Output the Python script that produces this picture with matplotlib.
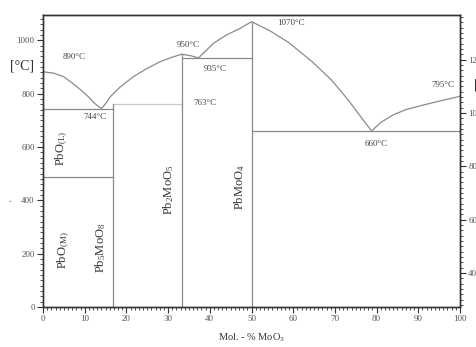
import matplotlib
matplotlib.use("Agg")
import matplotlib.pyplot as plt
from matplotlib.ticker import MultipleLocator

# Liquidus curve (mol % MoO3, °C)
liq_x = [0, 2.5, 4.9, 7.0, 9.0, 10.9, 12.5, 14.0, 15.0, 16.1, 18.5, 21.7,
         25.0, 28.1, 31.0, 33.3, 35.5, 37.3, 40.9, 44.0, 47.3, 50.0,
         54.4, 58.8, 64.4, 69.2, 73.2, 76.8, 78.8, 81.0, 83.9, 87.0,
         91.1, 95.0, 100]
liq_y = [882, 877, 864, 840, 815, 788, 762, 744, 762, 788, 825, 864,
         895, 920, 937, 948, 942, 934, 989, 1020, 1045, 1070,
         1036, 993, 922, 851, 776, 701, 660, 692, 720, 740,
         757, 772, 790]

# Horizontal isotherms: (x_start, x_end, temperature)
h_x0 = [0, 0, 16.7, 33.3, 50]
h_x1 = [16.7, 16.7, 33.3, 50, 100]
h_t = [744, 489, 763, 935, 660]
h_col = ['#8a8a8a', '#8a8a8a', '#c8c8c8', '#8a8a8a', '#8a8a8a']

# Vertical compound lines: (composition, top temperature)
v_x = [16.7, 33.3, 50]
v_top = [763, 948, 1070]

# Temperature annotations
ann_txt = ['890°C', '744°C', '950°C', '935°C', '763°C', '1070°C', '795°C', '660°C']
ann_x = [7.4, 12.5, 34.8, 41.2, 38.8, 59.5, 95.8, 79.9]
ann_y = [937, 712, 982, 892, 765, 1064, 832, 611]

# Phase labels (rotated)
ph_txt = [r'PbO$_{\mathregular{(L)}}$', r'PbO$_{\mathregular{(M)}}$',
          r'Pb$_{\mathregular{5}}$MoO$_{\mathregular{8}}$',
          r'Pb$_{\mathregular{2}}$MoO$_{\mathregular{5}}$',
          r'PbMoO$_{\mathregular{4}}$']
ph_x = [4.6, 4.9, 13.8, 30.0, 47.2]
ph_y = [595, 214, 221, 439, 451]

x_ticks = list(range(0, 101, 10))
y_ticks = [0, 200, 400, 600, 800, 1000]
k_ticks = [400, 600, 800, 1000, 1200]

plt.rcParams['font.family'] = ['Liberation Serif', 'DejaVu Serif']
plt.rcParams['mathtext.fontset'] = 'custom'
plt.rcParams['mathtext.rm'] = 'Liberation Serif'
plt.rcParams['mathtext.it'] = 'Liberation Serif'

fig = plt.figure(figsize=(4.76, 3.47), dpi=100)
ax = fig.add_axes([43/476, 1-307/347, (460-43)/476, (307-15)/347])
ymax = 1095
ax.set_xlim(0, 100)
ax.set_ylim(0, ymax)

lc = '#8a8a8a'
ax.plot(liq_x, liq_y, color=lc, lw=0.9)
for x0, x1, t, c in zip(h_x0, h_x1, h_t, h_col):
    ax.plot([x0, x1], [t, t], color=c, lw=0.9)
for x, top in zip(v_x, v_top):
    ax.plot([x, x], [0, top], color=lc, lw=0.9)

for t, x, y in zip(ann_txt, ann_x, ann_y):
    ax.text(x, y, t, fontsize=6.5, color='#444444', ha='center', va='center')
for t, x, y in zip(ph_txt, ph_x, ph_y):
    ax.text(x, y, t, fontsize=9, color='#333333', ha='center', va='center',
            rotation=90)

ax.set_xticks(x_ticks)
ax.set_yticks(y_ticks)
ax.xaxis.set_minor_locator(MultipleLocator(1))
ax.yaxis.set_minor_locator(MultipleLocator(20))
ax.tick_params(which='major', direction='out', length=4, width=0.8,
               labelsize=6.5, labelcolor='#555555', color='#333333', pad=2)
ax.tick_params(which='minor', direction='out', length=2.5, width=0.6,
               color='#333333')
ax.tick_params(axis='x', which='both', top=False)
for s in ax.spines.values():
    s.set_color('#333333')
    s.set_linewidth(1.0)

ax.set_xlabel(r'Mol. - % MoO$_{\mathregular{3}}$', fontsize=7.5,
              color='#333333', labelpad=6)
fig.text(22/476, 1-66/347, '[°C]', fontsize=10, color='#333333',
         ha='center', va='center')
fig.text(10/476, 1-200/347, '.', fontsize=7, color='#333333',
         ha='center', va='center')

# Kelvin axis on the right (partially cut off by the image edge)
axr = ax.twinx()
axr.set_ylim(273, ymax + 273)
axr.set_yticks(k_ticks)
axr.yaxis.set_minor_locator(MultipleLocator(20))
axr.tick_params(which='major', direction='out', length=4, width=0.8,
                labelsize=6.5, labelcolor='#555555', color='#333333', pad=2)
axr.tick_params(which='minor', direction='out', length=2.5, width=0.6,
                color='#333333')
for s in axr.spines.values():
    s.set_color('#333333')
    s.set_linewidth(1.0)
fig.text(474/476, 1-85/347, '[K]', fontsize=10, color='#333333',
         ha='left', va='center')

fig.savefig('out.png', dpi=100)
